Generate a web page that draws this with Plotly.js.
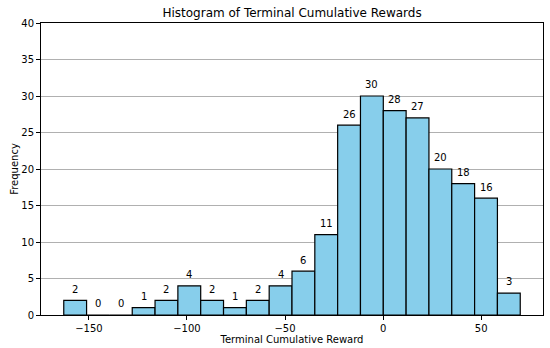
<!DOCTYPE html>
<html><head><meta charset="utf-8">
<script src="https://cdn.plot.ly/plotly-3.0.1.min.js"></script>
<style>html,body{margin:0;padding:0;background:#fff}</style>
</head><body><div id="chart" style="width:550px;height:348px"></div>
<script>
const binStart = -162.8;
const binWidth = 11.635;
const counts = [2,0,0,1,2,4,2,1,2,4,6,11,26,30,28,27,20,18,16,3];
const xTicks = [-150,-100,-50,0,50];
const yTicks = [0,5,10,15,20,25,30,35,40];

const centers = counts.map((c,i)=> binStart + binWidth*(i+0.5));
const font = 'DejaVu Sans, sans-serif';

const trace = {
  type:'bar', x:centers, y:counts, width:counts.map(()=>binWidth),
  marker:{color:'#87CEEB', line:{color:'#000', width:1.2}},
  hoverinfo:'skip'
};
const annotations = counts.map((c,i)=>({
  x:centers[i], y:c+0.5, text:String(c), showarrow:false,
  xanchor:'center', yanchor:'bottom', font:{family:font,size:10,color:'#000'}
}));
const layout = {
  width:550, height:348,
  margin:{l:41, r:7, t:23, b:33},
  paper_bgcolor:'#fff', plot_bgcolor:'#fff',
  title:{text:'Histogram of Terminal Cumulative Rewards', font:{family:font,size:12,color:'#000'}, x:0.531, xanchor:'center', y:0.962, yanchor:'middle'},
  bargap:0,
  xaxis:{range:[-174.4,81.5], tickvals:xTicks, ticktext:xTicks.map(v=>v<0?'\u2212'+Math.abs(v):String(v)),
    ticks:'outside', ticklen:4, tickcolor:'#000', showgrid:false, zeroline:false,
    showline:true, linecolor:'#000', linewidth:1, mirror:true,
    tickfont:{family:font,size:10,color:'#000'},
    title:{text:'Terminal Cumulative Reward', font:{family:font,size:10,color:'#000'}, standoff:1}},
  yaxis:{range:[0,40], tickvals:yTicks, ticks:'outside', ticklen:4, tickcolor:'#000',
    showgrid:true, gridcolor:'#b0b0b0', gridwidth:1, zeroline:false,
    showline:true, linecolor:'#000', linewidth:1, mirror:true,
    tickfont:{family:font,size:10,color:'#000'},
    title:{text:'Frequency', font:{family:font,size:10,color:'#000'}, standoff:0}},
  annotations:annotations,
  showlegend:false
};
Plotly.newPlot('chart',[trace],layout,{displayModeBar:false,staticPlot:true});
</script></body></html>
